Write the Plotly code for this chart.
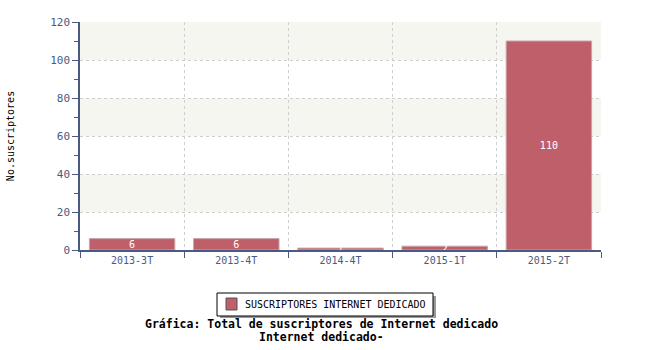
import plotly.graph_objects as go

categories = ["2013-3T", "2013-4T", "2014-4T", "2015-1T", "2015-2T"]
values = [6, 6, 1, 2, 110]
series_name = "SUSCRIPTORES INTERNET DEDICADO"
y_ticks = [0, 20, 40, 60, 80, 100, 120]
title_lines = ["Gráfica: Total de suscriptores de Internet dedicado", "Internet dedicado-"]

AXIS = "#4b5a82"
BAR = "#bf5f6a"
MONO = "DejaVu Sans Mono"

# plot area in pixels (for placing paper-referenced decorations)
L, R, T, B = 80, 601, 22, 250
def px(x):
    return (x - L) / (R - L)
def py(y):
    return (B - y) / (B - T)

fig = go.Figure()
fig.add_trace(go.Bar(
    x=categories, y=values, name=series_name,
    marker=dict(color=BAR, line=dict(color="#c9a5a8", width=1)),
    text=[str(v) for v in values], textposition="inside", textangle=0,
    insidetextanchor="middle",
    textfont=dict(color="white", size=10, family=MONO),
    showlegend=False,
))

shapes = []
# alternating background bands
for i in range(len(y_ticks) - 1):
    if i % 2 == 1:
        shapes.append(dict(type="rect", xref="paper", yref="y", x0=0, x1=1,
                           y0=y_ticks[i], y1=y_ticks[i + 1],
                           fillcolor="#f6f6f1", line=dict(width=0), layer="below"))
# legend box: shadow, frame, swatch
shapes.append(dict(type="rect", xref="paper", yref="paper",
                   x0=px(220), x1=px(436), y0=py(318), y1=py(296),
                   fillcolor="#9a9a9a", line=dict(width=0)))
shapes.append(dict(type="rect", xref="paper", yref="paper",
                   x0=px(217), x1=px(433), y0=py(316), y1=py(293),
                   fillcolor="white", line=dict(color="black", width=1)))
shapes.append(dict(type="rect", xref="paper", yref="paper",
                   x0=px(226), x1=px(237), y0=py(310), y1=py(298),
                   fillcolor=BAR, line=dict(color="#555555", width=1)))

annotations = [
    dict(text=series_name, xref="paper", yref="paper", x=px(243), y=py(304),
         xanchor="left", yanchor="middle", showarrow=False,
         font=dict(family=MONO, size=10, color="black")),
]
for i, line in enumerate(title_lines):
    annotations.append(dict(text=f"<b>{line}</b>", xref="paper", yref="paper",
                            x=px(321), y=py(324 + 13 * i), xanchor="center", yanchor="middle",
                            showarrow=False, font=dict(family=MONO, size=11.5, color="black")))

fig.update_layout(
    width=650, height=350,
    margin=dict(l=L, r=650 - R, t=T, b=350 - B),
    paper_bgcolor="white", plot_bgcolor="white",
    font=dict(family=MONO, size=10, color=AXIS),
    bargap=0.18,
    shapes=shapes,
    annotations=annotations,
    uniformtext=dict(minsize=10, mode="show"),
    showlegend=False,
)
fig.update_xaxes(
    type="category", tickson="boundaries", ticks="outside", ticklen=6,
    tickcolor=AXIS, showline=True, linecolor=AXIS, linewidth=1.5,
    showgrid=True, gridcolor="#cfcfcf", griddash="3px,3px", gridwidth=1,
    tickfont=dict(family=MONO, size=10, color=AXIS), automargin=False,
)
fig.update_yaxes(
    range=[0, 120], tickvals=y_ticks, ticks="outside", ticklen=6, tickcolor=AXIS,
    showline=True, linecolor=AXIS, linewidth=1.5,
    showgrid=True, gridcolor="#cfcfcf", griddash="3px,3px", gridwidth=1,
    zeroline=False, automargin=False,
    minor=dict(dtick=10, ticks="outside", ticklen=4, tickcolor=AXIS, showgrid=False),
    tickfont=dict(family=MONO, size=11, color=AXIS),
    title=dict(text="No.suscriptores", font=dict(family=MONO, size=10, color="black"), standoff=34),
)
fig.write_html("out.html")
